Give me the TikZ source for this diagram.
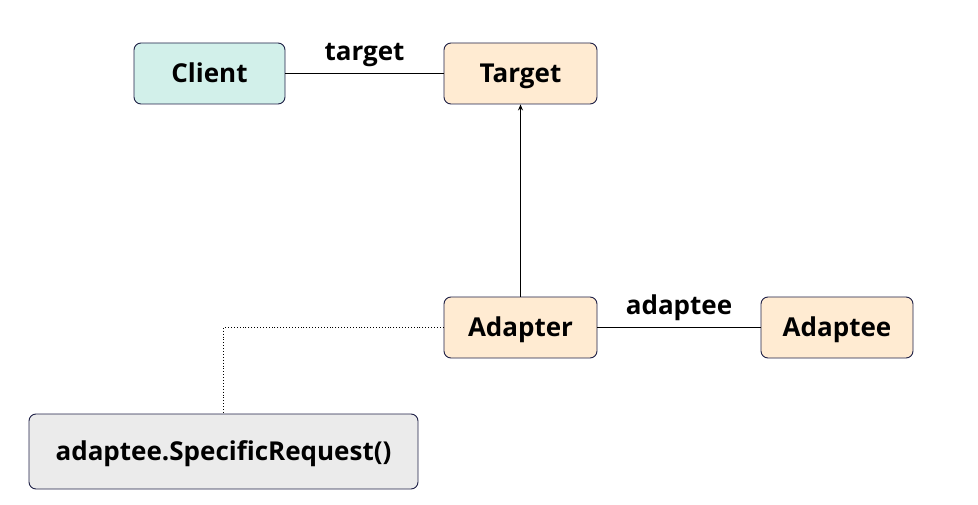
\documentclass[tikz,border=0pt]{standalone}
\usepackage{fontspec}
\IfFontExistsTF{Noto Sans Bold}{\newfontfamily\diagfont{Noto Sans Bold}}{\newfontfamily\diagfont{Open Sans}[UprightFont=*-Bold]}
\usetikzlibrary{arrows.meta}
\definecolor{bordc}{HTML}{1E2046}
\definecolor{tealf}{HTML}{D2F0EA}
\definecolor{orangef}{HTML}{FFEBD2}
\definecolor{greyf}{HTML}{EBEBEB}
\tikzset{
  txt/.style={font=\diagfont\fontsize{26}{30}\selectfont, inner sep=0pt, text height=18.6pt, text depth=0pt},
  box/.style={txt, draw=bordc, line width=0.9pt, rounded corners=7pt},
  lbl/.style={txt},
  conn/.style={line width=0.9pt, black},
}
\begin{document}
\begin{tikzpicture}[x=1pt,y=-1pt]
\useasboundingbox (0,0) rectangle (978,505);
\node[box, fill=tealf, minimum width=151pt, minimum height=61pt] (client) at (209.5,73.5) {Client};
\node[box, fill=orangef, minimum width=153pt, minimum height=61pt] (target) at (520.5,73.5) {Target};
\node[box, fill=orangef, minimum width=153pt, minimum height=61pt] (adapter) at (520.5,327.5) {Adapter};
\node[box, fill=orangef, minimum width=152pt, minimum height=61pt] (adaptee) at (837,327.5) {Adaptee};
\node[box, fill=greyf, minimum width=389pt, minimum height=75pt] (req) at (223.5,451.5) {adaptee.SpecificRequest()};
\draw[conn] (client.east) -- node[lbl, above=13pt] (tl) {target} (target.west);
\draw[conn] (adapter.east) -- node[lbl, above=13pt] (al) {adaptee} (adaptee.west);
\draw[conn, -{Stealth[length=6pt,width=5pt]}] (adapter.north) -- (target.south);
\coordinate (bend) at (req.north |- adapter.west);
\draw[line width=0.9pt, dotted] (adapter.west) -- (bend) -- (req.north);
\end{tikzpicture}
\end{document}
